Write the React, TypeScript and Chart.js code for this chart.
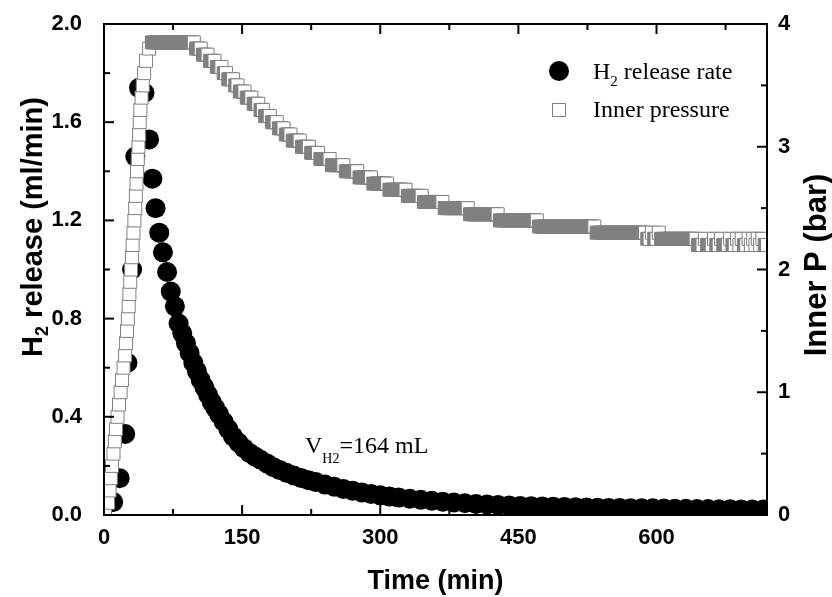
import React, { useEffect, useRef } from "react";
import { Chart, registerables } from "chart.js";

Chart.register(...registerables);

// ---- data ----
const h2Time = [10, 17, 23, 25.5, 30.5, 34, 38, 44, 49, 52.5, 56, 60, 64, 68.5, 72.5, 77, 81, 85, 89, 93, 97, 101, 105, 109, 113, 117, 121, 125, 130, 135, 140, 146, 152, 158, 164, 170, 177, 184, 191, 198, 206, 214, 222, 230, 240, 250, 260, 270, 280, 290, 300, 310, 320, 332, 344, 356, 368, 380, 392, 404, 416, 428, 440, 452, 464, 476, 488, 500, 512, 524, 536, 548, 560, 572, 584, 596, 608, 620, 632, 644, 656, 668, 680, 692, 704, 716];
const h2Rate = [0.053, 0.15, 0.33, 0.62, 1.0, 1.46, 1.74, 1.72, 1.53, 1.37, 1.25, 1.15, 1.07, 0.99, 0.91, 0.85, 0.78, 0.74, 0.70, 0.66, 0.62, 0.585, 0.55, 0.52, 0.49, 0.46, 0.435, 0.41, 0.38, 0.35, 0.32, 0.295, 0.272, 0.253, 0.238, 0.225, 0.21, 0.195, 0.183, 0.172, 0.161, 0.151, 0.142, 0.134, 0.124, 0.115, 0.106, 0.099, 0.092, 0.086, 0.08, 0.075, 0.071, 0.066, 0.062, 0.058, 0.054, 0.051, 0.048, 0.045, 0.043, 0.041, 0.039, 0.037, 0.036, 0.035, 0.034, 0.033, 0.032, 0.031, 0.030, 0.029, 0.029, 0.028, 0.027, 0.027, 0.026, 0.025, 0.025, 0.024, 0.024, 0.023, 0.023, 0.022, 0.022, 0.022];

const pTime = [
  1, 4.4, 6, 7.4, 8.7, 10.3, 11.8, 13, 14.7, 16.3, 18, 19.6, 21.2, 22.9, 24, 25, 25.9, 26.8, 27.6, 28.5,
  29.4, 30.3, 31.1, 32, 33, 33.9, 34.6, 35.3, 35.9, 36.7, 37.4, 38.1, 38.8, 39.5, 40.8, 42.1, 43.6, 45.7, 49, 52,
  55, 57.5, 60, 62.5, 65, 67.5, 70, 72.5, 75, 77.5, 80, 82.5, 85, 87.5, 90, 92.5, 95, 97.5, 100, 102.5,
  105, 107.5, 110, 112.5, 115, 117.5, 120, 122.5, 125, 127.5, 130, 132.5, 135, 137.5, 140, 142.5, 145, 147.5, 150, 152.5,
  155, 157.5, 160, 162.5, 165, 167.5, 170, 172.5, 175, 177.5, 180, 182.5, 185, 187.5, 190, 192.5, 195, 197.5, 200, 202.5,
  205, 207.5, 210, 212.5, 215, 217.5, 220, 222.5, 225, 227.5, 230, 232.5, 235, 237.5, 240, 242.5, 245, 247.5, 250, 252.5,
  255, 257.5, 260, 262.5, 265, 267.5, 270, 272.5, 275, 277.5, 280, 282.5, 285, 287.5, 290, 292.5, 295, 297.5, 300, 302.5,
  305, 307.5, 310, 312.5, 315, 317.5, 320, 322.5, 325, 327.5, 330, 332.5, 335, 337.5, 340, 342.5, 345, 347.5, 350, 352.5,
  355, 357.5, 360, 362.5, 365, 367.5, 370, 372.5, 375, 377.5, 380, 382.5, 385, 387.5, 390, 392.5, 395, 397.5, 400, 402.5,
  405, 407.5, 410, 412.5, 415, 417.5, 420, 422.5, 425, 427.5, 430, 432.5, 435, 437.5, 440, 442.5, 445, 447.5, 450, 452.5,
  455, 457.5, 460, 462.5, 465, 467.5, 470, 472.5, 475, 477.5, 480, 482.5, 485, 487.5, 490, 492.5, 495, 497.5, 500, 502.5,
  505, 507.5, 510, 512.5, 515, 517.5, 520, 522.5, 525, 527.5, 530, 532.5, 535, 537.5, 540, 542.5, 545, 547.5, 550, 552.5,
  555, 557.5, 560, 562.5, 565, 567.5, 570, 572.5, 575, 577.5, 580, 582.5, 585, 587.5, 590, 592.5, 595, 597.5, 600, 602.5,
  605, 607.5, 610, 612.5, 615, 617.5, 620, 622.5, 625, 627.5, 630, 632.5, 635, 637.5, 640, 642.5, 645, 647.5, 650, 652.5,
  655, 657.5, 660, 662.5, 665, 667.5, 670, 672.5, 675, 677.5, 680, 682.5, 685, 687.5, 690, 692.5, 695, 697.5, 700, 702.5,
  705, 707.5, 710, 712.5, 715, 717.5, 720];
const pValue = [
  0.05, 0.1, 0.2, 0.3, 0.4, 0.5, 0.6, 0.7, 0.8, 0.9, 1.0, 1.1, 1.2, 1.3, 1.4, 1.5, 1.6, 1.7, 1.8, 1.9,
  2.0, 2.1, 2.2, 2.3, 2.4, 2.5, 2.6, 2.7, 2.8, 2.9, 3.0, 3.1, 3.2, 3.3, 3.4, 3.5, 3.6, 3.7, 3.8, 3.85,
  3.85, 3.85, 3.85, 3.85, 3.85, 3.85, 3.85, 3.85, 3.85, 3.85, 3.85, 3.85, 3.85, 3.85, 3.85, 3.85, 3.85, 3.85, 3.80, 3.80,
  3.80, 3.75, 3.75, 3.75, 3.70, 3.70, 3.70, 3.65, 3.65, 3.65, 3.60, 3.60, 3.55, 3.55, 3.55, 3.50, 3.50, 3.45, 3.45, 3.45,
  3.40, 3.40, 3.40, 3.35, 3.35, 3.35, 3.30, 3.30, 3.25, 3.25, 3.25, 3.20, 3.20, 3.20, 3.15, 3.15, 3.15, 3.10, 3.10, 3.10,
  3.05, 3.05, 3.05, 3.05, 3.00, 3.00, 3.00, 3.00, 2.95, 2.95, 2.95, 2.95, 2.90, 2.90, 2.90, 2.90, 2.90, 2.85, 2.85, 2.85,
  2.85, 2.85, 2.85, 2.80, 2.80, 2.80, 2.80, 2.80, 2.80, 2.75, 2.75, 2.75, 2.75, 2.75, 2.75, 2.70, 2.70, 2.70, 2.70, 2.70,
  2.70, 2.70, 2.65, 2.65, 2.65, 2.65, 2.65, 2.65, 2.65, 2.65, 2.60, 2.60, 2.60, 2.60, 2.60, 2.60, 2.60, 2.55, 2.55, 2.55,
  2.55, 2.55, 2.55, 2.55, 2.55, 2.55, 2.50, 2.50, 2.50, 2.50, 2.50, 2.50, 2.50, 2.50, 2.50, 2.50, 2.50, 2.45, 2.45, 2.45,
  2.45, 2.45, 2.45, 2.45, 2.45, 2.45, 2.45, 2.45, 2.45, 2.45, 2.40, 2.40, 2.40, 2.40, 2.40, 2.40, 2.40, 2.40, 2.40, 2.40,
  2.40, 2.40, 2.40, 2.40, 2.40, 2.40, 2.40, 2.35, 2.35, 2.35, 2.35, 2.35, 2.35, 2.35, 2.35, 2.35, 2.35, 2.35, 2.35, 2.35,
  2.35, 2.35, 2.35, 2.35, 2.35, 2.35, 2.35, 2.35, 2.35, 2.35, 2.35, 2.35, 2.30, 2.30, 2.30, 2.30, 2.30, 2.30, 2.30, 2.30,
  2.30, 2.30, 2.30, 2.30, 2.30, 2.30, 2.30, 2.30, 2.30, 2.30, 2.30, 2.30, 2.30, 2.30, 2.25, 2.25, 2.30, 2.25, 2.25, 2.30,
  2.25, 2.25, 2.25, 2.25, 2.25, 2.25, 2.25, 2.25, 2.25, 2.25, 2.25, 2.25, 2.25, 2.25, 2.25, 2.25, 2.20, 2.20, 2.20, 2.25,
  2.20, 2.20, 2.20, 2.25, 2.20, 2.20, 2.25, 2.20, 2.20, 2.20, 2.25, 2.20, 2.20, 2.25, 2.20, 2.25, 2.20, 2.20, 2.25, 2.20,
  2.25, 2.20, 2.25, 2.20, 2.25, 2.20, 2.20];

const xMajorTicks = [0, 150, 300, 450, 600];
const xMinorTicks = [75, 225, 375, 525, 675];
const yLeftMajor = [0, 0.4, 0.8, 1.2, 1.6, 2.0];
const yLeftMinor = [0.2, 0.6, 1.0, 1.4, 1.8];
const yRightMajor = [0, 1, 2, 3, 4];
const yRightMinor = [0.5, 1.5, 2.5, 3.5];

const SANS = '"Liberation Sans", Arial, sans-serif';
const SERIF = '"Liberation Serif", "Times New Roman", serif';
const GRAY = "#808080";

type Part = { t: string; font: string; dy: number };

function drawRich(ctx: CanvasRenderingContext2D, parts: Part[], x: number, y: number, center: boolean) {
  const widths = parts.map((p) => {
    ctx.font = p.font;
    return ctx.measureText(p.t).width;
  });
  const total = widths.reduce((a, b) => a + b, 0);
  let cx = center ? x - total / 2 : x;
  ctx.textAlign = "left";
  ctx.textBaseline = "alphabetic";
  parts.forEach((p, i) => {
    ctx.font = p.font;
    ctx.fillText(p.t, cx, y + p.dy);
    cx += widths[i];
  });
}

const decorPlugin = {
  id: "decor",
  afterDraw(chart: any) {
    const { ctx, chartArea: a, scales } = chart;
    ctx.save();
    ctx.strokeStyle = "#000";
    ctx.fillStyle = "#000";
    ctx.lineWidth = 2;
    ctx.strokeRect(a.left, a.top, a.right - a.left, a.bottom - a.top);
    const line = (x1: number, y1: number, x2: number, y2: number) => {
      ctx.beginPath();
      ctx.moveTo(x1, y1);
      ctx.lineTo(x2, y2);
      ctx.stroke();
    };
    const MAJ = 10, MIN = 6;
    xMajorTicks.forEach((v) => { const p = scales.x.getPixelForValue(v); line(p, a.bottom, p, a.bottom - MAJ); line(p, a.top, p, a.top + MAJ); });
    xMinorTicks.forEach((v) => { const p = scales.x.getPixelForValue(v); line(p, a.bottom, p, a.bottom - MIN); line(p, a.top, p, a.top + MIN); });
    yLeftMajor.forEach((v) => { const p = scales.y.getPixelForValue(v); line(a.left, p, a.left + MAJ, p); });
    yLeftMinor.forEach((v) => { const p = scales.y.getPixelForValue(v); line(a.left, p, a.left + MIN, p); });
    yRightMajor.forEach((v) => { const p = scales.y2.getPixelForValue(v); line(a.right, p, a.right - MAJ, p); });
    yRightMinor.forEach((v) => { const p = scales.y2.getPixelForValue(v); line(a.right, p, a.right - MIN, p); });

    // axis titles
    drawRich(ctx, [{ t: "Time (min)", font: `bold 27px ${SANS}`, dy: 0 }], (a.left + a.right) / 2, 589, true);
    ctx.save();
    ctx.translate(42, 227);
    ctx.rotate(-Math.PI / 2);
    drawRich(ctx, [
      { t: "H", font: `bold 29px ${SANS}`, dy: 0 },
      { t: "2", font: `bold 18px ${SANS}`, dy: 6 },
      { t: " release (ml/min)", font: `bold 29px ${SANS}`, dy: 0 },
    ], 0, 0, true);
    ctx.restore();
    ctx.save();
    ctx.translate(826, 265);
    ctx.rotate(-Math.PI / 2);
    drawRich(ctx, [{ t: "Inner P (bar)", font: `bold 31px ${SANS}`, dy: 0 }], 0, 0, true);
    ctx.restore();

    // legend
    ctx.beginPath();
    ctx.arc(559, 71, 10, 0, Math.PI * 2);
    ctx.fill();
    drawRich(ctx, [
      { t: "H", font: `24px ${SERIF}`, dy: 0 },
      { t: "2", font: `15px ${SERIF}`, dy: 7 },
      { t: " release rate", font: `24px ${SERIF}`, dy: 0 },
    ], 593, 79, false);
    ctx.fillStyle = "#fff";
    ctx.fillRect(552.5, 103.5, 13, 13);
    ctx.strokeStyle = GRAY;
    ctx.lineWidth = 1;
    ctx.strokeRect(552.5, 103.5, 13, 13);
    ctx.fillStyle = "#000";
    drawRich(ctx, [{ t: "Inner pressure", font: `24px ${SERIF}`, dy: 0 }], 593, 117, false);

    // annotation
    drawRich(ctx, [
      { t: "V", font: `24px ${SERIF}`, dy: 0 },
      { t: "H2", font: `14px ${SERIF}`, dy: 10 },
      { t: "=164 mL", font: `24px ${SERIF}`, dy: 0 },
    ], 305, 453, false);
    ctx.restore();
  },
};

export default function App() {
  const ref = useRef<HTMLCanvasElement | null>(null);
  useEffect(() => {
    if (!ref.current) return;
    const h2Data = h2Time.map((t, i) => ({ x: t, y: h2Rate[i] }));
    const pData = pTime.map((t, i) => ({ x: t, y: pValue[i] }));
    const tickFont = { family: SANS, size: 22, weight: "bold" };
    const noPad = (s: any) => { s.paddingTop = 0; s.paddingBottom = 0; s.paddingLeft = 0; s.paddingRight = 0; };
    const chart = new Chart(ref.current, {
      type: "scatter",
      data: {
        datasets: [
          {
            label: "Inner pressure",
            data: pData,
            yAxisID: "y2",
            order: 0,
            pointStyle: "rect",
            pointRadius: 9.2,
            pointBorderWidth: 1,
            pointBorderColor: GRAY,
            pointBackgroundColor: (c: any) => {
              const i = c.dataIndex;
              const next = pValue[i + 1];
              return next === undefined || next !== pValue[i] ? "#ffffff" : GRAY;
            },
            clip: 0,
          } as any,
          {
            label: "H2 release rate",
            data: h2Data,
            yAxisID: "y",
            order: 1,
            pointStyle: "circle",
            pointRadius: 10,
            pointBorderWidth: 0,
            pointBackgroundColor: "#000",
            pointBorderColor: "#000",
            clip: 0,
          } as any,
        ],
      },
      options: {
        animation: false,
        responsive: true,
        maintainAspectRatio: false,
        layout: { autoPadding: false, padding: { top: 24, left: 0, right: 0, bottom: 0 } },
        plugins: { legend: { display: false }, tooltip: { enabled: false } },
        scales: {
          x: {
            type: "linear",
            min: 0,
            max: 720,
            grid: { display: false, drawTicks: false },
            border: { display: false },
            ticks: { padding: 10, color: "#000", font: tickFont },
            afterBuildTicks: (s: any) => { s.ticks = xMajorTicks.map((v) => ({ value: v })); },
            afterFit: (s: any) => { s.height = 82; noPad(s); },
          },
          y: {
            type: "linear",
            position: "left",
            min: 0,
            max: 2,
            grid: { display: false, drawTicks: false },
            border: { display: false },
            ticks: { padding: 22, color: "#000", font: tickFont, callback: (v: any) => Number(v).toFixed(1) },
            afterBuildTicks: (s: any) => { s.ticks = yLeftMajor.map((v) => ({ value: v })); },
            afterFit: (s: any) => { s.width = 104; noPad(s); },
          },
          y2: {
            type: "linear",
            position: "right",
            min: 0,
            max: 4,
            grid: { display: false, drawTicks: false },
            border: { display: false },
            ticks: { padding: 11, color: "#000", font: tickFont },
            afterBuildTicks: (s: any) => { s.ticks = yRightMajor.map((v) => ({ value: v })); },
            afterFit: (s: any) => { s.width = 65; noPad(s); },
          },
        },
      } as any,
      plugins: [decorPlugin],
    });
    return () => chart.destroy();
  }, []);
  return (
    <div style={{ position: "fixed", left: 0, top: 0, width: 832, height: 597, background: "#fff" }}>
      <canvas ref={ref} />
    </div>
  );
}
